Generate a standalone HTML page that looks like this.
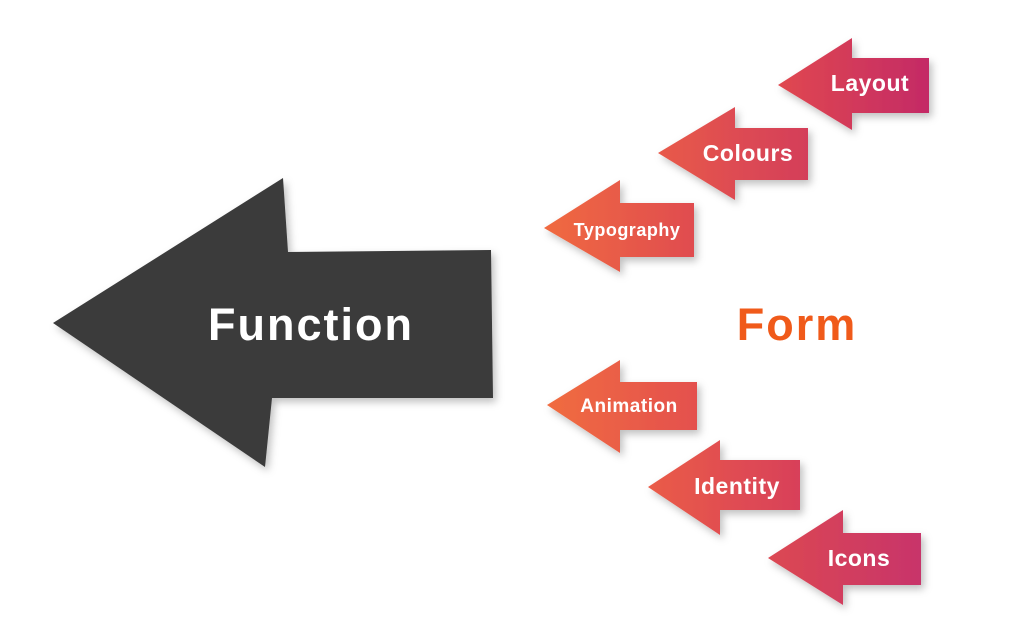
<!DOCTYPE html>
<html><head><meta charset="utf-8"><style>
body{margin:0;width:1024px;height:640px;background:#fff;overflow:hidden}
svg{display:block}
text{font-family:"Liberation Sans",sans-serif;font-weight:bold;fill:#fff;letter-spacing:0.5px}
</style></head><body>
<svg width="1024" height="640" viewBox="0 0 1024 640">
<defs>
<linearGradient id="g1" x1="0" x2="1"><stop offset="0" stop-color="#e0484f"/><stop offset="1" stop-color="#c42a66"/></linearGradient>
<linearGradient id="g2" x1="0" x2="1"><stop offset="0" stop-color="#e85a4a"/><stop offset="1" stop-color="#d43e5a"/></linearGradient>
<linearGradient id="g3" x1="0" x2="1"><stop offset="0" stop-color="#f06a40"/><stop offset="1" stop-color="#e04c50"/></linearGradient>
<linearGradient id="g4" x1="0" x2="1"><stop offset="0" stop-color="#f06c40"/><stop offset="1" stop-color="#e4504e"/></linearGradient>
<linearGradient id="g5" x1="0" x2="1"><stop offset="0" stop-color="#ea5c48"/><stop offset="1" stop-color="#d8405a"/></linearGradient>
<linearGradient id="g6" x1="0" x2="1"><stop offset="0" stop-color="#dc4852"/><stop offset="1" stop-color="#c8346a"/></linearGradient>
<filter id="sh" x="-20%" y="-20%" width="140%" height="140%"><feDropShadow dx="3" dy="4" stdDeviation="4" flood-opacity="0.25"/></filter>
</defs>
<g filter="url(#sh)">
<polygon points="53,323 283,178 288,252 491,250 493,398 272,398 265,467" fill="#3a3a3a"/>
<polygon points="778,85 852,38 852,58 929,58 929,113 852,113 852,130" fill="url(#g1)"/>
<polygon points="658,153 735,107 735,128 808,128 808,180 735,180 735,200" fill="url(#g2)"/>
<polygon points="544,228 620,180 620,203 694,203 694,257 620,257 620,272" fill="url(#g3)"/>
<polygon points="547,405 620,360 620,382 697,382 697,430 620,430 620,453" fill="url(#g4)"/>
<polygon points="648,487 720,440 720,460 800,460 800,510 720,510 720,535" fill="url(#g5)"/>
<polygon points="768,558 843,510 843,533 921,533 921,585 843,585 843,605" fill="url(#g6)"/>
</g>
<text x="311" y="340" font-size="45" text-anchor="middle" style="letter-spacing:2px">Function</text>
<text x="797" y="340" font-size="45" text-anchor="middle" style="fill:#f05a1a;letter-spacing:2px">Form</text>
<text x="870" y="91" font-size="23" text-anchor="middle">Layout</text>
<text x="748" y="161" font-size="23" text-anchor="middle">Colours</text>
<text x="627" y="236" font-size="18" text-anchor="middle">Typography</text>
<text x="629" y="412" font-size="19" text-anchor="middle">Animation</text>
<text x="737" y="494" font-size="23" text-anchor="middle">Identity</text>
<text x="859" y="566" font-size="23" text-anchor="middle">Icons</text>
</svg>
</body></html>
